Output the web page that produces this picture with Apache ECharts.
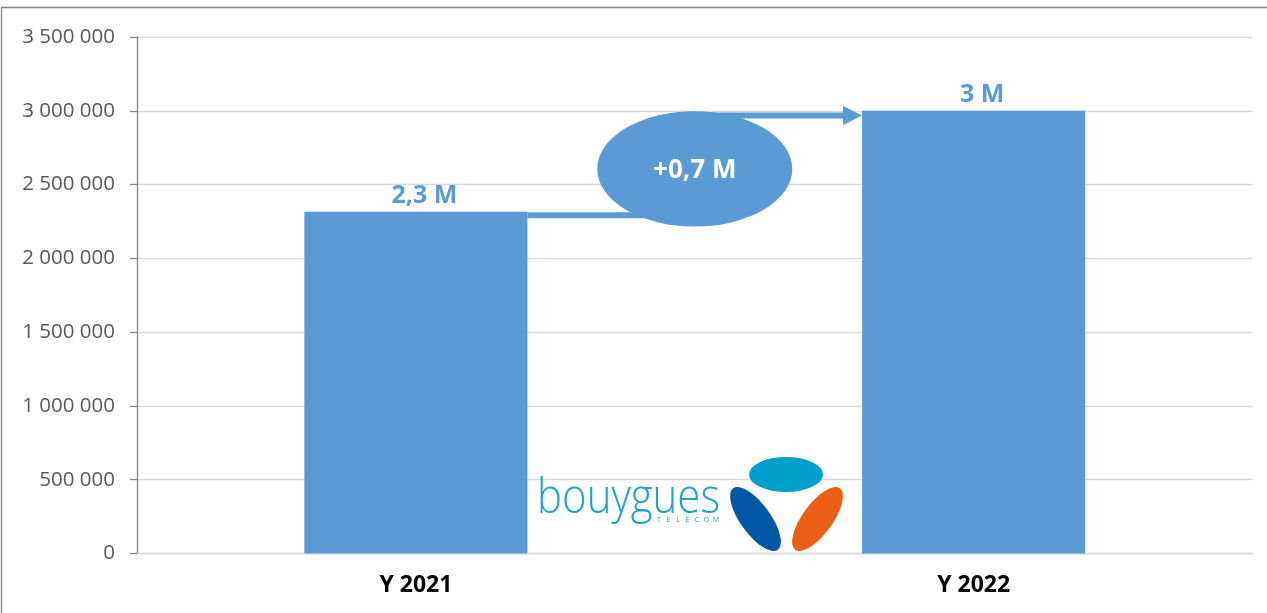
<!DOCTYPE html>
<html>
<head>
<meta charset="utf-8">
<script src="https://cdn.jsdelivr.net/npm/echarts@6/dist/echarts.min.js"></script>
<style>
html,body{margin:0;padding:0;background:#fff;}
#c{width:1267px;height:613px;}
</style>
</head>
<body>
<div id="c"></div>
<script>
const categories = ['Y 2021', 'Y 2022'];
const values = [2315000, 3000000];
const valueLabels = ['2,3 M', '3 M'];
const deltaLabel = '+0,7 M';
const yMin = 0, yMax = 3500000, yStep = 500000;

const BLUE = '#5b9bd5';
const FONT = '"Open Sans", "Liberation Sans", sans-serif';

const chart = echarts.init(document.getElementById('c'), null, {renderer: 'canvas'});

function fmt(v) { return String(v).replace(/\B(?=(\d{3})+(?!\d))/g, ' '); }

chart.setOption({
  animation: false,
  backgroundColor: '#fff',
  grid: {left: 137, right: 14.5, top: 37, bottom: 59.5, containLabel: false},
  xAxis: {
    type: 'category',
    data: categories,
    axisLine: {show: true, lineStyle: {color: '#d9d9d9', width: 1.3}},
    axisTick: {show: false},
    axisLabel: {color: '#000', fontFamily: FONT, fontWeight: 'bold', fontSize: 23, margin: 20}
  },
  yAxis: {
    type: 'value',
    min: yMin, max: yMax, interval: yStep,
    axisLine: {show: true, lineStyle: {color: '#868686', width: 1.3}},
    axisTick: {show: true, length: 7, lineStyle: {color: '#868686', width: 1.3}},
    splitLine: {show: true, lineStyle: {color: '#d9d9d9', width: 1.3}},
    axisLabel: {color: '#595959', fontFamily: FONT, fontSize: 20.5, margin: 22, formatter: fmt}
  },
  series: [{
    type: 'bar',
    data: values,
    barWidth: '40%',
    itemStyle: {color: BLUE},
    label: {
      show: true, position: 'top', distance: 3, offset: [8.5, 0],
      color: BLUE, fontFamily: FONT, fontWeight: 'bold', fontSize: 25,
      formatter: p => valueLabels[p.dataIndex]
    },
    z: 2
  }]
});

// annotations computed from the data through the axes
const c0 = chart.convertToPixel({xAxisIndex: 0}, categories[0]);
const c1 = chart.convertToPixel({xAxisIndex: 0}, categories[1]);
const band = c1 - c0;
const half = band * 0.2;
const y0 = chart.convertToPixel({yAxisIndex: 0}, values[0]);
const y1 = chart.convertToPixel({yAxisIndex: 0}, values[1]);
const xStart = c0 + half;
const xEnd = c1 - half;
const xMid = (xStart + xEnd) / 2;
const lowY = y0 + 3.3;
const highY = y1 + 4.8;
const lw = 6;

const graphic = [
  // gray frame
  {type: 'rect', shape: {x: 1.5, y: 7.5, width: 1300, height: 700}, style: {fill: 'none', stroke: '#868686', lineWidth: 1.3}, z: 100, silent: true},
  // connector
  {type: 'polyline', shape: {points: [[xStart, lowY], [xMid, lowY], [xMid, highY], [xEnd - 17, highY]]},
   style: {stroke: BLUE, lineWidth: lw, fill: 'none', lineJoin: 'miter'}, z: 10},
  {type: 'polygon', shape: {points: [[xEnd - 19, highY - 9.5], [xEnd, highY], [xEnd - 19, highY + 9.5]]},
   style: {fill: BLUE}, z: 10},
  // ellipse bubble
  {type: 'circle', shape: {cx: 0, cy: 0, r: 57.7}, x: xMid, y: (lowY + highY) / 2 + 3.5, scaleX: 97.5 / 57.7,
   style: {fill: BLUE}, z: 11},
  {type: 'text', x: xMid, y: (lowY + highY) / 2 + 5,
   style: {text: deltaLabel, fill: '#fff', font: 'bold 26px ' + FONT, textAlign: 'center', textVerticalAlign: 'middle'}, z: 12},
  // logo
  {type: 'text', x: 537, y: 476, scaleX: 0.894,
   style: {text: 'bouygues', fill: '#1ba3d2', font: '300 47px ' + FONT, textAlign: 'left', textVerticalAlign: 'top'}, z: 20},
  {type: 'circle', shape: {cx: 0, cy: 0, r: 17.5}, x: 786, y: 474.5, scaleX: 37 / 17.5, style: {fill: '#00a0cc'}, z: 20},
  {type: 'circle', shape: {cx: 0, cy: 0, r: 15}, x: 755.5, y: 519, scaleX: 38 / 15, rotation: -54 * Math.PI / 180, style: {fill: '#0057a5'}, z: 20},
  {type: 'circle', shape: {cx: 0, cy: 0, r: 15}, x: 817.5, y: 519, scaleX: 38 / 15, rotation: 54 * Math.PI / 180, style: {fill: '#ea5f15'}, z: 20}
];
const tele = 'TELECOM';
for (let i = 0; i < tele.length; i++) {
  graphic.push({type: 'text', x: 659 + i * 9.5, y: 520,
    style: {text: tele[i], fill: '#1ba3d2', font: '7px ' + FONT, textAlign: 'center', textVerticalAlign: 'middle'}, z: 20});
}
chart.setOption({graphic: graphic});
</script>
</body>
</html>
